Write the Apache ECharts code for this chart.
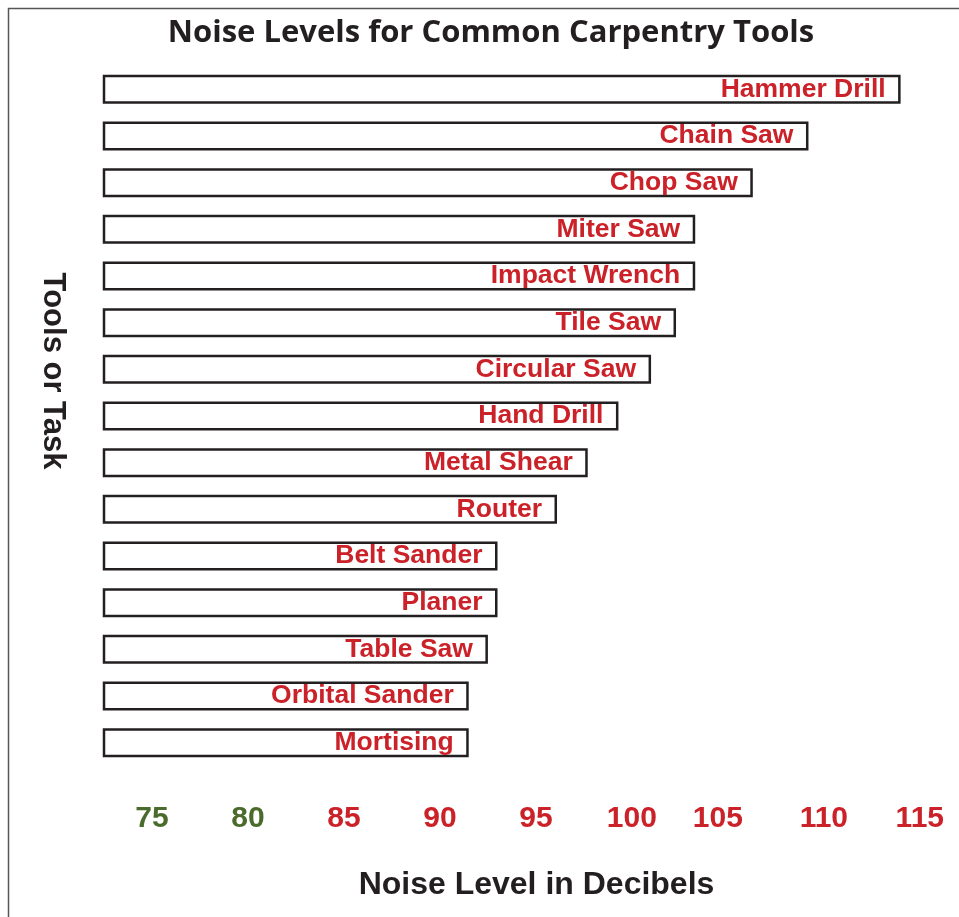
<!DOCTYPE html>
<html>
<head>
<meta charset="utf-8">
<title>Noise Levels for Common Carpentry Tools</title>
<script src="https://cdn.jsdelivr.net/npm/echarts@6/dist/echarts.min.js"></script>
<style>
  html, body { margin: 0; padding: 0; background: #fff; }
  #chart { width: 959px; height: 917px; }
</style>
</head>
<body>
<div id="chart"></div>
<script>
// data (dB)
const tools = ['Hammer Drill', 'Chain Saw', 'Chop Saw', 'Miter Saw', 'Impact Wrench', 'Tile Saw',
  'Circular Saw', 'Hand Drill', 'Metal Shear', 'Router', 'Belt Sander', 'Planer', 'Table Saw',
  'Orbital Sander', 'Mortising']
const decibels = [114, 109.2, 106.3, 103.3, 103.3, 102.3, 101, 99.3, 97.7, 96.1, 93, 93, 92.5, 91.5, 91.5]
const tickValues = [75, 80, 85, 90, 95, 100, 105, 110, 115]

const RED = '#cb2128'
const GREEN = '#4b6b2d'
const INK = '#231f20'
const SANS = 'Arial, "Liberation Sans", Helvetica, sans-serif'

const chart = echarts.init(document.getElementById('chart'))

const option = {
  backgroundColor: '#fff',
  animation: false,
  title: {
    text: 'Noise Levels for Common Carpentry Tools',
    left: 486,
    top: 13,
    textAlign: 'center',
    textStyle: {
      fontFamily: '"Open Sans"',
      fontWeight: 'bold',
      fontSize: 31,
      color: INK
    }
  },
  grid: {
    left: 104,
    right: 20,
    top: 66,
    bottom: 151,
    containLabel: false
  },
  xAxis: {
    type: 'value',
    min: 72.5,
    max: 116,
    name: 'Noise Level in Decibels',
    nameLocation: 'middle',
    nameGap: 103,
    nameTextStyle: {
      fontFamily: SANS,
      fontWeight: 'bold',
      fontSize: 32,
      color: INK,
      padding: [0, 0, 0, 30]
    },
    axisLine: {show: false},
    axisTick: {show: false},
    splitLine: {show: false},
    axisLabel: {
      customValues: tickValues,
      margin: 38,
      fontFamily: SANS,
      fontWeight: 'bold',
      fontSize: 30,
      formatter: function (value) {
        if (value === 105) return '{off|' + value + '}'
        return '{' + (value < 85 ? 'g' : 'r') + '|' + value + '}'
      },
      rich: {
        g: {color: GREEN, fontFamily: SANS, fontWeight: 'bold', fontSize: 30},
        r: {color: RED, fontFamily: SANS, fontWeight: 'bold', fontSize: 30},
        off: {color: RED, fontFamily: SANS, fontWeight: 'bold', fontSize: 30, padding: [0, 20, 0, 0]}
      }
    }
  },
  yAxis: {
    type: 'category',
    inverse: true,
    data: tools,
    name: 'Tools or Task',
    nameLocation: 'middle',
    nameRotate: -90,
    nameGap: 36,
    nameTextStyle: {
      fontFamily: SANS,
      fontWeight: 'bold',
      fontSize: 31,
      color: INK,
      padding: [0, 90, 0, 0]
    },
    axisLine: {show: false},
    axisTick: {show: false},
    axisLabel: {show: false},
    splitLine: {show: false}
  },
  series: [
    {
      type: 'bar',
      data: decibels,
      barWidth: 29,
      itemStyle: {
        color: '#fff',
        borderColor: INK,
        borderWidth: 2.5
      },
      label: {
        show: true,
        position: 'insideRight',
        distance: 15,
        formatter: function (p) { return p.name },
        fontFamily: SANS,
        fontWeight: 'bold',
        fontSize: 26.5,
        color: RED
      }
    }
  ],
  graphic: [
    {
      type: 'polyline',
      silent: true,
      shape: {points: [[8.5, 917], [8.5, 8.5], [959, 8.5]]},
      style: {stroke: '#555', lineWidth: 1.5, fill: null}
    }
  ]
}

chart.setOption(option)
</script>
</body>
</html>
